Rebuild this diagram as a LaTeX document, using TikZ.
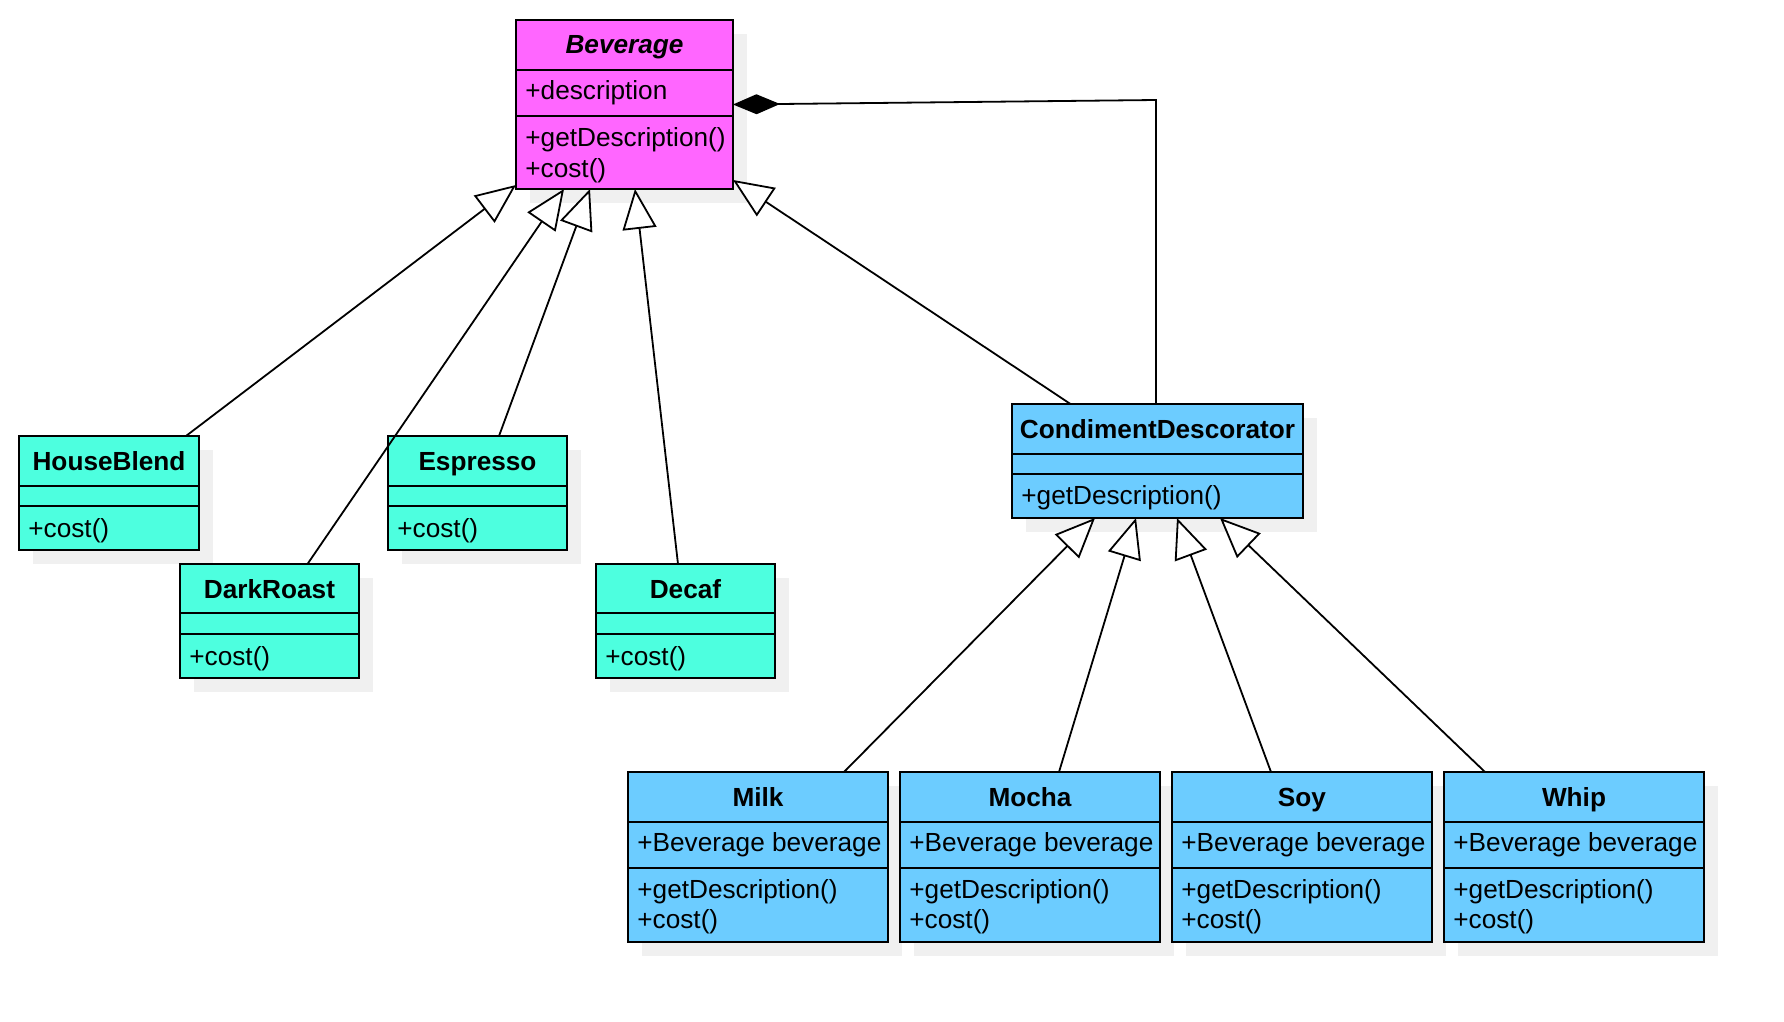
\documentclass[tikz,border=0pt]{standalone}
\usepackage{fontspec}
\setmainfont{Liberation Sans}
\usetikzlibrary{arrows.meta,calc,fit}
\definecolor{bevc}{RGB}{255,102,255}
\definecolor{tealc}{RGB}{77,255,223}
\definecolor{bluec}{RGB}{108,204,255}
\definecolor{shadowc}{RGB}{240,240,240}
\tikzset{
  classbox/.style={draw, line width=1.1pt, inner sep=0pt, outer sep=0pt},
  divline/.style={line width=1.1pt},
  ttl/.style={font=\fontsize{13.1}{15}\selectfont\bfseries, inner sep=0pt, anchor=base},
  mem/.style={font=\fontsize{13.1}{15}\selectfont, inner sep=0pt, anchor=base west},
  gen/.style={line width=0.9pt, -{Triangle[length=20pt,width=17pt,fill=white]}},
  comp/.style={line width=0.9pt, -{Diamond[length=23.5pt,width=10pt,fill=black]}},
}
\newcommand{\umlclass}[8]{%
  \fill[shadowc] (#2+14,#3+14) rectangle (#4+14,#5+14);
  \node[classbox, fill=#8, fit={(#2,#3) (#4,#5)}] (#1) {};
  \draw[divline] (#2,#6) -- (#4,#6);
  \draw[divline] (#2,#7) -- (#4,#7);
}
\begin{document}
\begin{tikzpicture}[x=0.5pt,y=-0.5pt]
\useasboundingbox (0,0) rectangle (1784,1022);

% Beverage
\umlclass{bev}{516}{20}{733}{189}{70}{116}{bevc}
\node[ttl] (bevT) at (624.5,54) {\itshape Beverage};
\node[mem] (bevA) at (525,100) {+description};
\node[mem] (bevM1) at (525,147) {+getDescription()};
\node[mem] (bevM2) at (525,177) {+cost()};

% HouseBlend
\umlclass{hb}{19}{436}{199}{550}{486}{506}{tealc}
\node[ttl] (hbT) at (109,470) {HouseBlend};
\node[mem] (hbM) at (28,537) {+cost()};

% Espresso
\umlclass{es}{388}{436}{567}{550}{486}{506}{tealc}
\node[ttl] (esT) at (477.5,470) {Espresso};
\node[mem] (esM) at (397,537) {+cost()};

% DarkRoast
\umlclass{dr}{180}{564}{359}{678}{613}{634}{tealc}
\node[ttl] (drT) at (269.5,598) {DarkRoast};
\node[mem] (drM) at (189,665) {+cost()};

% Decaf
\umlclass{de}{596}{564}{775}{678}{613}{634}{tealc}
\node[ttl] (deT) at (685.5,598) {Decaf};
\node[mem] (deM) at (605,665) {+cost()};

% CondimentDescorator
\umlclass{cd}{1012}{404}{1303}{518}{454}{474}{bluec}
\node[ttl] (cdT) at (1157.5,438) {CondimentDescorator};
\node[mem] (cdM) at (1021,504) {+getDescription()};

% Milk
\umlclass{milk}{628}{772}{888}{942}{822}{868}{bluec}
\node[ttl] (milkT) at (758,806) {Milk};
\node[mem] (milkA) at (637,851) {+Beverage beverage};
\node[mem] (milkM1) at (637,898) {+getDescription()};
\node[mem] (milkM2) at (637,928) {+cost()};

% Mocha
\umlclass{mocha}{900}{772}{1160}{942}{822}{868}{bluec}
\node[ttl] (mochaT) at (1030,806) {Mocha};
\node[mem] (mochaA) at (909,851) {+Beverage beverage};
\node[mem] (mochaM1) at (909,898) {+getDescription()};
\node[mem] (mochaM2) at (909,928) {+cost()};

% Soy
\umlclass{soy}{1172}{772}{1432}{942}{822}{868}{bluec}
\node[ttl] (soyT) at (1302,806) {Soy};
\node[mem] (soyA) at (1181,851) {+Beverage beverage};
\node[mem] (soyM1) at (1181,898) {+getDescription()};
\node[mem] (soyM2) at (1181,928) {+cost()};

% Whip
\umlclass{whip}{1444}{772}{1704}{942}{822}{868}{bluec}
\node[ttl] (whipT) at (1574,806) {Whip};
\node[mem] (whipA) at (1453,851) {+Beverage beverage};
\node[mem] (whipM1) at (1453,898) {+getDescription()};
\node[mem] (whipM2) at (1453,928) {+cost()};

% generalisations to Beverage
\draw[gen] ($(hb.north west)+(167,0)$) -- ($(bev.south west)+(0,-4)$);
\draw[gen] ($(dr.north west)+(127.5,0)$) -- ($(bev.south west)+(48,0)$);
\draw[gen] ($(es.north west)+(111,0)$) -- ($(bev.south west)+(74,0)$);
\draw[gen] ($(de.north west)+(82,0)$) -- ($(bev.south west)+(119,0)$);
\draw[gen] ($(cd.north west)+(58.5,0)$) -- ($(bev.south east)+(0,-9)$);

% composition
\draw[comp] ($(cd.north west)+(144,0)$) -- ($(cd.north west)+(144,-304)$) -- (bev.east);

% generalisations to CondimentDescorator
\draw[gen] ($(milk.north west)+(216,0)$) -- ($(cd.south west)+(83,0)$);
\draw[gen] ($(mocha.north west)+(159,0)$) -- ($(cd.south west)+(124,0)$);
\draw[gen] ($(soy.north west)+(99,0)$) -- ($(cd.south west)+(165,0)$);
\draw[gen] ($(whip.north west)+(41,0)$) -- ($(cd.south west)+(208,0)$);
\end{tikzpicture}
\end{document}
